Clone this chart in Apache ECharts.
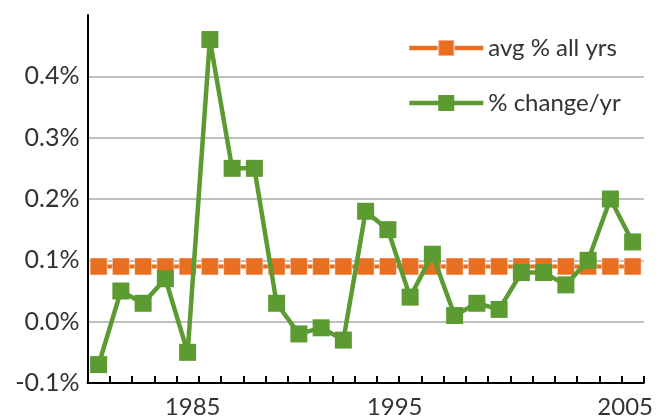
<!DOCTYPE html>
<html><head><meta charset="utf-8">
<script src="https://cdn.jsdelivr.net/npm/echarts@6/dist/echarts.min.js"></script>
<style>html,body{margin:0;padding:0;background:#fff}#c{width:666px;height:419px}</style>
</head><body><div id="c"></div>
<script>
const years = ['1981','1982','1983','1984','1985','1986','1987','1988','1989','1990','1991','1992','1993','1994','1995','1996','1997','1998','1999','2000','2001','2002','2003','2004','2005'];
const changePerYear = [-0.07,0.05,0.03,0.07,-0.05,0.46,0.25,0.25,0.03,-0.02,-0.01,-0.03,0.18,0.15,0.04,0.11,0.01,0.03,0.02,0.08,0.08,0.06,0.10,0.20,0.13];
const avgAllYears = [0.09,0.09,0.09,0.09,0.09,0.09,0.09,0.09,0.09,0.09,0.09,0.09,0.09,0.09,0.09,0.09,0.09,0.09,0.09,0.09,0.09,0.09,0.09,0.09,0.09];
const xTickLabels = ['1985','1995','2005'];
const yMin = -0.1, yMax = 0.5, yStep = 0.1;

const FONT = 'Lato';
const TXT = '#333333';
const GREEN = '#5C9A32';
const ORANGE = '#E86E22';

const richBase = {fontSize: 24, fontFamily: FONT, color: TXT};
const rich = {
  s1985: Object.assign({padding: [0, 0, 0, 10]}, richBase),
  s1995: Object.assign({padding: [0, 31, 0, 0]}, richBase),
  s2005: Object.assign({padding: [0, 15, 0, 0]}, richBase)
};

const chart = echarts.init(document.getElementById('c'), null, {renderer: 'canvas'});
chart.setOption({
  animation: false,
  backgroundColor: '#ffffff',
  grid: {left: 87.5, right: 22.25, top: 15, bottom: 34, containLabel: false},
  legend: {
    orient: 'vertical', left: 402, top: 28,
    itemWidth: 74, itemHeight: 20, itemGap: 25,
    lineStyle: {width: 4.5},
    textStyle: {fontSize: 24, color: TXT, fontFamily: FONT, lineHeight: 30},
    data: ['avg % all yrs', '% change/yr'],
    selectedMode: false
  },
  xAxis: {
    type: 'category', data: years, boundaryGap: true,
    axisLine: {onZero: false, lineStyle: {color: '#000', width: 2}},
    axisTick: {show: true, inside: true, length: 7, interval: 0, lineStyle: {color: '#000', width: 2}},
    axisLabel: {
      interval: function (i, v) { return xTickLabels.indexOf(v) >= 0; },
      formatter: function (v) { return '{s' + v + '|' + v + '}'; },
      rich: rich, fontSize: 24, fontFamily: FONT, color: TXT, margin: 12
    },
    splitLine: {show: false}
  },
  yAxis: {
    type: 'value', min: yMin, max: yMax, interval: yStep,
    axisLine: {show: true, lineStyle: {color: '#000', width: 2}},
    axisTick: {show: false},
    splitLine: {show: true, showMaxLine: false, lineStyle: {color: '#BFBFBF', width: 2}},
    axisLabel: {
      formatter: function (v) { return Math.abs(v - yMax) < 1e-9 ? '' : v.toFixed(1) + '%'; },
      fontSize: 25, fontFamily: FONT, color: TXT, margin: 8
    }
  },
  series: [
    {
      name: 'avg % all yrs', type: 'line', data: avgAllYears,
      symbol: 'rect', symbolSize: 17, showAllSymbol: true,
      lineStyle: {color: ORANGE, width: 4},
      itemStyle: {color: ORANGE, borderColor: 'rgba(255,255,255,0.45)', borderWidth: 1},
      emphasis: {disabled: true}, z: 2
    },
    {
      name: '% change/yr', type: 'line', data: changePerYear,
      symbol: 'rect', symbolSize: 17, showAllSymbol: true,
      lineStyle: {color: GREEN, width: 4.5},
      itemStyle: {color: GREEN},
      emphasis: {disabled: true}, z: 3
    }
  ]
});
</script>
</body></html>
